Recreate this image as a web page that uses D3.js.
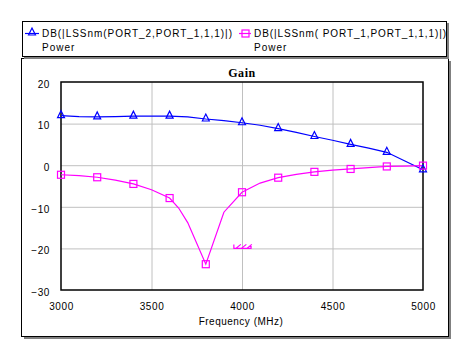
<!DOCTYPE html>
<html>
<head>
<meta charset="utf-8">
<script src="https://cdn.jsdelivr.net/npm/d3@7"></script>
<style>
  body { margin: 0; background: #fff; }
  text { font-family: Arial, "Liberation Sans", sans-serif; }
</style>
</head>
<body>
<div id="chart"></div>
<script>
// data
var freqS21 = [3000, 3100, 3200, 3300, 3400, 3500, 3600, 3700, 3800, 3900, 4000, 4100, 4200, 4300, 4400, 4500, 4600, 4700, 4800, 4900, 5000];
var gainS21 = [11.9, 11.7, 11.6, 11.7, 11.8, 11.8, 11.8, 11.6, 11.1, 10.7, 10.2, 9.6, 8.8, 7.9, 6.9, 6.0, 5.0, 4.1, 3.1, 1.0, -1.1];
var freqS11 = [3000, 3100, 3200, 3300, 3400, 3500, 3600, 3650, 3700, 3800, 3900, 4000, 4100, 4200, 4300, 4400, 4500, 4600, 4700, 4800, 4900, 5000];
var gainS11 = [-2.3, -2.5, -2.9, -3.6, -4.5, -5.9, -7.9, -10.3, -13.8, -23.8, -11.3, -6.5, -4.3, -3.0, -2.2, -1.6, -1.2, -0.9, -0.6, -0.3, -0.2, -0.1];
var markerFreqs = [3000, 3200, 3400, 3600, 3800, 4000, 4200, 4400, 4600, 4800, 5000];
var specFreqs = [3955, 4050];
var specLevel = -20;
var xTicks = [3000, 3500, 4000, 4500, 5000];
var yTicks = [-30, -20, -10, 0, 10, 20];
var legendNames = ["DB(|LSSnm(PORT_2,PORT_1,1,1)|)", "DB(|LSSnm( PORT_1,PORT_1,1,1)|)"];

var W = 473, H = 361;
var plot = {left: 61, top: 82, right: 423, bottom: 290};

var svg = d3.select("#chart").append("svg")
    .attr("width", W)
    .attr("height", H);

svg.append("rect").attr("width", W).attr("height", H).attr("fill", "#fff");

// outer frame with shadow
svg.append("rect").attr("x", 24).attr("y", 61).attr("width", 427).attr("height", 278).attr("fill", "#808080");
svg.append("rect").attr("x", 21.5).attr("y", 58.5).attr("width", 427).attr("height", 278)
    .attr("fill", "#fff").attr("stroke", "#000").attr("stroke-width", 1);

// legend box with shadow
svg.append("rect").attr("x", 24).attr("y", 23).attr("width", 425).attr("height", 36).attr("fill", "#808080");
svg.append("rect").attr("x", 22.5).attr("y", 21.5).attr("width", 424).attr("height", 35)
    .attr("fill", "#fff").attr("stroke", "#000").attr("stroke-width", 1);

var x = d3.scaleLinear().domain([3000, 5000]).range([plot.left, plot.right]);
var y = d3.scaleLinear().domain([-30, 20]).range([plot.bottom, plot.top]);

// grid
var g = svg.append("g");
g.selectAll(".vgrid").data(xTicks.slice(1, -1)).enter().append("line")
    .attr("x1", function (d) { return x(d) + 0.5; })
    .attr("x2", function (d) { return x(d) + 0.5; })
    .attr("y1", plot.top).attr("y2", plot.bottom)
    .attr("stroke", "#c0c0c0");
g.selectAll(".hgrid").data(yTicks.slice(1, -1)).enter().append("line")
    .attr("y1", function (d) { return y(d) + 0.5; })
    .attr("y2", function (d) { return y(d) + 0.5; })
    .attr("x1", plot.left).attr("x2", plot.right)
    .attr("stroke", "#c0c0c0");

// axes (labels only, box drawn separately)
var xAxis = d3.axisBottom(x).tickValues(xTicks).tickFormat(d3.format("d")).tickSize(0).tickPadding(0);
var gx = svg.append("g").attr("transform", "translate(0," + (plot.bottom + 13) + ")").call(xAxis);
gx.select(".domain").remove();
gx.selectAll("text").attr("font-size", 10).attr("fill", "#000")
    .style("font-family", "Arial, 'Liberation Sans', sans-serif")
    .style("letter-spacing", "0.6px");

var yAxis = d3.axisLeft(y).tickValues(yTicks).tickSize(0).tickPadding(0);
var gy = svg.append("g").attr("transform", "translate(" + (plot.left - 11) + ",2)").call(yAxis);
gy.select(".domain").remove();
gy.selectAll("text").attr("font-size", 10).attr("fill", "#000")
    .style("font-family", "Arial, 'Liberation Sans', sans-serif")
    .style("letter-spacing", "0.6px");

// plot border
svg.append("rect").attr("x", plot.left).attr("y", plot.top)
    .attr("width", plot.right - plot.left).attr("height", plot.bottom - plot.top)
    .attr("fill", "none").attr("stroke", "#000").attr("stroke-width", 1.5);

// title and axis title
svg.append("text").attr("x", 242).attr("y", 77).attr("text-anchor", "middle")
    .style("font-family", "'Times New Roman', 'Liberation Serif', serif")
    .attr("font-weight", "bold").attr("font-size", 12).style("letter-spacing", "0.6px")
    .text("Gain");
svg.append("text").attr("x", 241).attr("y", 325).attr("text-anchor", "middle")
    .attr("font-size", 10).style("letter-spacing", "0.5px")
    .text("Frequency (MHz)");

var line = d3.line()
    .x(function (d) { return x(d[0]); })
    .y(function (d) { return y(d[1]); });

var s21 = freqS21.map(function (f, i) { return [f, gainS21[i]]; });
var s11 = freqS11.map(function (f, i) { return [f, gainS11[i]]; });

var traces = svg.append("g");

traces.append("path").datum(s21).attr("d", line)
    .attr("fill", "none").attr("stroke", "#0000ff").attr("stroke-width", 1.2);
traces.append("path").datum(s11).attr("d", line)
    .attr("fill", "none").attr("stroke", "#ff00ff").attr("stroke-width", 1.2);

function triangle(cx, cy) {
    return "M" + (cx - 3.5) + "," + (cy + 3) + "L" + cx + "," + (cy - 4) + "L" + (cx + 3.5) + "," + (cy + 3) + "Z";
}

traces.selectAll(".tri").data(s21.filter(function (d) { return markerFreqs.indexOf(d[0]) >= 0; }))
    .enter().append("path")
    .attr("d", function (d) { return triangle(x(d[0]), y(d[1]) - 1); })
    .attr("fill", "none").attr("stroke", "#0000ff").attr("stroke-width", 1.2);

traces.selectAll(".sq").data(s11.filter(function (d) { return markerFreqs.indexOf(d[0]) >= 0; }))
    .enter().append("rect")
    .attr("x", function (d) { return x(d[0]) - 3.5; })
    .attr("y", function (d) { return y(d[1]) - 3.5; })
    .attr("width", 7).attr("height", 7)
    .attr("fill", "none").attr("stroke", "#ff00ff").attr("stroke-width", 1.2);

// spec marker (hatched limit line)
var sx0 = x(specFreqs[0]), sx1 = x(specFreqs[1]), sy = y(specLevel);
var hatch = "M" + sx0 + "," + (sy - 4) + "L" + sx0 + "," + sy + "L" + sx1 + "," + sy + "L" + sx1 + "," + (sy - 4);
for (var k = 0; k < 3; k++) {
    var hx = sx0 + 2 + k * 5.5;
    hatch += "M" + hx + "," + sy + "L" + (hx + 5) + "," + (sy - 4);
}
svg.append("path").attr("d", hatch).attr("fill", "none")
    .attr("stroke", "#ff00ff").attr("stroke-width", 1.2);

// legend
var leg = svg.append("g");
leg.append("line").attr("x1", 25).attr("x2", 39).attr("y1", 33.5).attr("y2", 33.5)
    .attr("stroke", "#0000ff").attr("stroke-width", 1.2);
leg.append("path").attr("d", triangle(32, 32)).attr("fill", "none")
    .attr("stroke", "#0000ff").attr("stroke-width", 1.2);
leg.append("line").attr("x1", 239).attr("x2", 251).attr("y1", 33.5).attr("y2", 33.5)
    .attr("stroke", "#ff00ff").attr("stroke-width", 1.2);
leg.append("rect").attr("x", 242).attr("y", 30).attr("width", 7).attr("height", 7)
    .attr("fill", "none").attr("stroke", "#ff00ff").attr("stroke-width", 1.2);

var legX = [42, 254], legW = [190, 192];
legendNames.forEach(function (name, i) {
    leg.append("text").attr("x", legX[i]).attr("y", 37).attr("font-size", 10)
        .attr("textLength", legW[i]).attr("lengthAdjust", "spacing").text(name);
    leg.append("text").attr("x", legX[i]).attr("y", 51).attr("font-size", 10)
        .style("letter-spacing", "1px").text("Power");
});
</script>
</body>
</html>
